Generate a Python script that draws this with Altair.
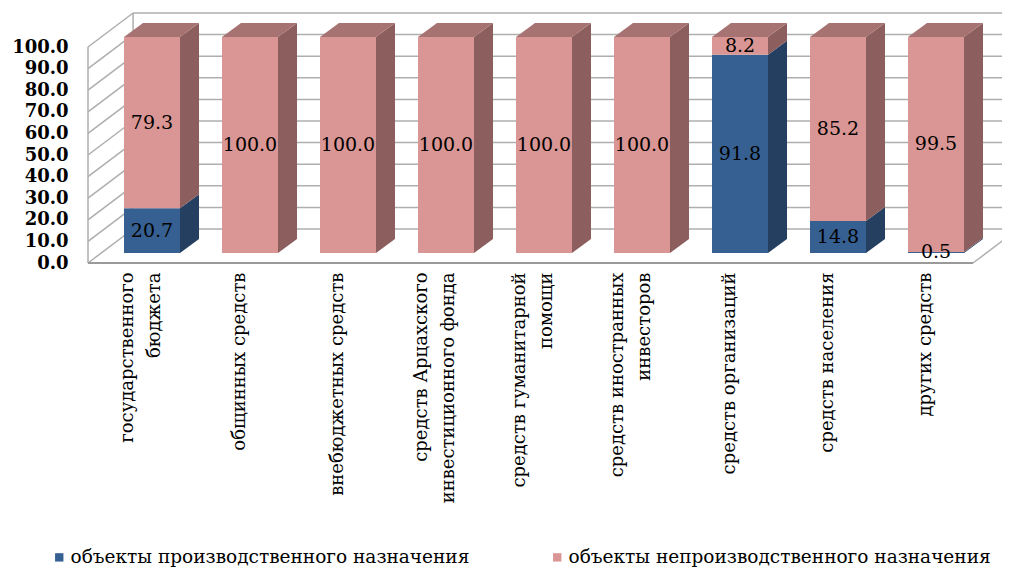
import json
import altair as alt
import pandas as pd

# ---- data ----
categories = [
    "государственного|бюджета",
    "общинных средств",
    "внебюджетных средств",
    "средств Арцахского|инвестиционного фонда",
    "средств гуманитарной|помощи",
    "средств иностранных|инвесторов",
    "средств организаций",
    "средств населения",
    "других средств",
]
production = [20.7, 0.0, 0.0, 0.0, 0.0, 0.0, 91.8, 14.8, 0.5]
nonproduction = [79.3, 100.0, 100.0, 100.0, 100.0, 100.0, 8.2, 85.2, 99.5]
series_names = ["объекты производственного назначения",
                "объекты непроизводственного назначения"]
y_ticks = [0, 10, 20, 30, 40, 50, 60, 70, 80, 90, 100]

# ---- styling / pseudo-3D geometry (in scale units) ----
FRONT_COLORS = ["#376092", "#D99694"]
SIDE_COLORS = ["#243F60", "#8C5E5D"]
TOP_COLOR = "#A77372"
HALF = 0.2857           # half bar width (x units)
DX, DY = 0.194, 6.48    # bar depth
FY = -4.63              # front plane vertical shift
BY = 11.11              # back plane vertical shift
WL_F, WR_F = -0.653, 8.378   # floor front left/right
WL_B, WR_B = -0.193, 8.838   # floor back left/right
SERIF = "DejaVu Serif"

n = len(categories)
seg_rows, side_rows, top_rows = [], [], []
sid = 0
for i in range(n):
    start = 0.0
    for s, vals in enumerate([production, nonproduction]):
        v = vals[i]
        if v > 0:
            seg_rows.append(dict(i=i, series=series_names[s], y0=start, y1=start + v,
                                 mid=start + v / 2, l=i - HALF, r=i + HALF, val=v))
            side_rows.append(dict(seg=sid, series=series_names[s], x=i + HALF, lo=start, hi=start + v))
            side_rows.append(dict(seg=sid, series=series_names[s], x=i + HALF + DX, lo=start + DY, hi=start + v + DY))
            sid += 1
            start += v
    top_rows.append(dict(bar=i, y=start, xa=i - HALF, xb=i + HALF))
    top_rows.append(dict(bar=i, y=start + DY, xa=i - HALF + DX, xb=i + HALF + DX))

seg_df = pd.DataFrame(seg_rows)
side_df = pd.DataFrame(side_rows)
top_df = pd.DataFrame(top_rows)

grid_rows = []
for t in y_ticks:
    grid_rows.append(dict(x=WL_B, x2=WR_B, y=t + BY, y2=t + BY))      # back wall
    grid_rows.append(dict(x=WL_F, x2=WL_B, y=t + FY, y2=t + BY))      # left wall
grid_rows.append(dict(x=WL_F, x2=WL_F, y=y_ticks[0] + FY, y2=y_ticks[-1] + FY))
grid_rows.append(dict(x=WL_B, x2=WL_B, y=y_ticks[0] + BY, y2=y_ticks[-1] + BY))
grid_rows.append(dict(x=WR_F, x2=WR_B, y=y_ticks[0] + FY, y2=y_ticks[0] + BY))
grid_df = pd.DataFrame(grid_rows)
floor_df = pd.DataFrame([dict(x=WL_F, x2=WR_F, y=y_ticks[0] + FY, y2=y_ticks[0] + FY)])

xscale = alt.Scale(domain=[-0.5, n - 0.5], nice=False, zero=False)
yscale = alt.Scale(domain=[0, 100], nice=False, zero=False)

label_expr = "split(" + json.dumps(categories, ensure_ascii=False) + "[datum.value], '|')"
multi_idx = [k for k, c in enumerate(categories) if "|" in c]

XAXIS = alt.Axis(
    values=list(range(n)), labelExpr=label_expr, labelAngle=270, labelPadding=19,
    labelOffset={"condition": {"test": "indexof(" + json.dumps(multi_idx) + ", datum.value) >= 0",
                               "value": -25}, "value": -11},
    labelFont=SERIF, labelFontSize=18, labelLineHeight=27,
    labelColor="black", domain=False, ticks=False, grid=False, title=None,
    labelLimit=400)
YAXIS = alt.Axis(
    values=y_ticks, format=".1f", labelFont=SERIF, labelFontSize=18,
    labelFontWeight="bold", labelColor="black", labelPadding=35, labelOffset=10,
    domain=False, ticks=False, grid=False, title=None)


def X(field):
    return alt.X(field, scale=xscale, axis=XAXIS, title=None)


def Y(field):
    return alt.Y(field, scale=yscale, axis=YAXIS, title=None)


grid = alt.Chart(grid_df).mark_rule(color="#AEAEAE", strokeWidth=1.5).encode(
    x=X("x:Q"), x2="x2:Q", y=Y("y:Q"), y2="y2:Q",
)

floor = alt.Chart(floor_df).mark_rule(color="#9A9A9A", strokeWidth=2.2).encode(
    x=X("x:Q"), x2="x2:Q", y=Y("y:Q"), y2="y2:Q",
)

side = alt.Chart(side_df).mark_area(orient="vertical").encode(
    x=X("x:Q"), y=Y("lo:Q"), y2="hi:Q",
    detail="seg:N",
    color=alt.Color("series:N", scale=alt.Scale(domain=series_names, range=SIDE_COLORS), legend=None),
)

top = alt.Chart(top_df).mark_area(orient="horizontal", color=TOP_COLOR).encode(
    y=Y("y:Q"), x=X("xa:Q"), x2="xb:Q",
    detail="bar:N",
)

front = alt.Chart(seg_df).mark_rect().encode(
    x=X("l:Q"), x2="r:Q", y=Y("y0:Q"), y2="y1:Q",
    color=alt.Color("series:N", scale=alt.Scale(domain=series_names, range=FRONT_COLORS),
                    legend=alt.Legend(orient="none", legendX=-53, legendY=511, direction="horizontal",
                                      title=None, labelFont=SERIF, labelFontSize=18.5,
                                      labelColor="black", symbolType="square", symbolSize=70,
                                      symbolStrokeWidth=0, columnPadding=78, labelLimit=1000,
                                      labelOffset=2)),
)

labels = alt.Chart(seg_df).mark_text(font=SERIF, fontSize=19, color="black").encode(
    x=X("i:Q"), y=Y("mid:Q"),
    text=alt.Text("val:Q", format=".1f"),
)

chart = alt.layer(grid, floor, side, top, front, labels).resolve_scale(color="independent").properties(
    width=882, height=216,
    autosize=alt.AutoSizeParams(type="none"),
    padding={"left": 95, "top": 29, "right": 17, "bottom": 314},
    background="white",
).configure_view(stroke=None)

chart.save("out.html", embed_options={"renderer": "svg", "actions": False})
